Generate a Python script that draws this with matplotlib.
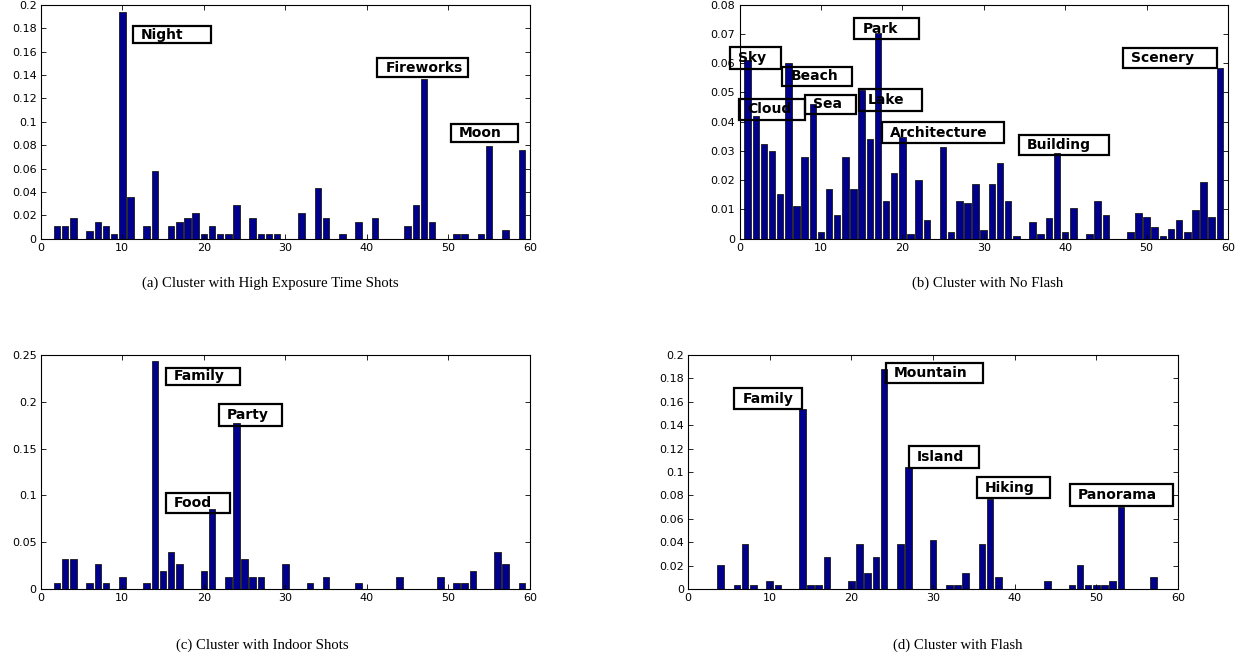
import numpy as np
import matplotlib
matplotlib.use("Agg")
import matplotlib.pyplot as plt
from matplotlib.patches import Rectangle
from matplotlib.ticker import FuncFormatter

# bar index 1..59 for all four clusters
idx = np.arange(1, 60)

high_exposure = [0, 0.011, 0.011, 0.018, 0, 0.007, 0.0145, 0.011, 0.0036, 0.194,
                 0.036, 0, 0.011, 0.058, 0, 0.011, 0.0145, 0.018, 0.0217, 0.0036,
                 0.011, 0.0036, 0.0036, 0.029, 0, 0.018, 0.0036, 0.0036, 0.0036, 0,
                 0, 0.0217, 0, 0.0435, 0.018, 0, 0.0036, 0, 0.0145, 0,
                 0.018, 0, 0, 0, 0.011, 0.029, 0.137, 0.0145, 0, 0,
                 0.0036, 0.0036, 0, 0.0036, 0.079, 0, 0.0072, 0, 0.076]

no_flash = [0.061, 0.042, 0.0324, 0.030, 0.0154, 0.060, 0.0112, 0.0281, 0.0459, 0.0024,
            0.017, 0.0081, 0.0281, 0.017, 0.0508, 0.034, 0.0704, 0.0129, 0.0226, 0.0346,
            0.0016, 0.0202, 0.0064, 0, 0.0315, 0.0024, 0.0129, 0.0122, 0.0186, 0.0031,
            0.0186, 0.0258, 0.0129, 0.0008, 0, 0.0056, 0.0016, 0.0072, 0.0292, 0.0024,
            0.0104, 0, 0.0016, 0.0129, 0.0081, 0, 0, 0.0024, 0.0089, 0.0073,
            0.004, 0.0008, 0.0032, 0.0064, 0.0024, 0.0097, 0.0194, 0.0073, 0.0583]

indoor = [0, 0.0064, 0.0324, 0.0324, 0, 0.0064, 0.0263, 0.0064, 0, 0.0128,
          0, 0, 0.0064, 0.2436, 0.0192, 0.0395, 0.0263, 0, 0, 0.0192,
          0.0855, 0, 0.0128, 0.1776, 0.0324, 0.0128, 0.0128, 0, 0, 0.0263,
          0, 0, 0.0064, 0, 0.0128, 0, 0, 0, 0.0064, 0,
          0, 0, 0, 0.0128, 0, 0, 0, 0, 0.0128, 0,
          0.0064, 0.0064, 0.0192, 0, 0, 0.0395, 0.0263, 0, 0.0064]

flash = [0, 0, 0, 0.0205, 0, 0.0034, 0.0385, 0.0034, 0, 0.0068,
         0.0034, 0, 0, 0.1536, 0.0034, 0.0034, 0.0276, 0, 0, 0.0068,
         0.0385, 0.0137, 0.0276, 0.188, 0, 0.0385, 0.1043, 0, 0, 0.0419,
         0, 0.0034, 0.0034, 0.0137, 0, 0.0385, 0.0768, 0.0103, 0, 0,
         0, 0, 0, 0.0068, 0, 0, 0.0034, 0.0205, 0.0034, 0.0034,
         0.0034, 0.0068, 0.0698, 0, 0, 0, 0.0103, 0, 0]

captions = ["(a) Cluster with High Exposure Time Shots", "(b) Cluster with No Flash",
            "(c) Cluster with Indoor Shots", "(d) Cluster with Flash"]

# tag labels: text, box x0, x1, y0, y1 (data coords)
tags_a = [("Night", 11.28, 20.88, 0.1674, 0.1817),
          ("Fireworks", 41.28, 52.43, 0.1383, 0.1546),
          ("Moon", 50.31, 58.49, 0.0831, 0.0983)]
tags_b = [("Sky", -1.17, 5.06, 0.0579, 0.0654),
          ("Beach", 5.25, 13.84, 0.0522, 0.0588),
          ("Cloud", -0.1, 8.04, 0.0406, 0.0478),
          ("Sea", 8.07, 14.29, 0.0426, 0.0492),
          ("Park", 14.09, 21.99, 0.0682, 0.0754),
          ("Lake", 14.70, 22.36, 0.0438, 0.0511),
          ("Architecture", 17.45, 32.49, 0.0326, 0.0400),
          ("Building", 34.29, 45.40, 0.0286, 0.0355),
          ("Scenery", 47.09, 58.63, 0.0583, 0.0651)]
tags_c = [("Family", 15.33, 24.44, 0.2179, 0.2364),
          ("Party", 21.86, 29.55, 0.1745, 0.1973),
          ("Food", 15.36, 23.21, 0.0809, 0.1022)]
tags_d = [("Family", 5.67, 13.92, 0.1536, 0.1715),
          ("Mountain", 24.24, 36.14, 0.1758, 0.1934),
          ("Island", 27.05, 35.65, 0.1032, 0.1222),
          ("Hiking", 35.34, 44.31, 0.0775, 0.0955),
          ("Panorama", 46.76, 59.40, 0.0712, 0.0895)]

W, H = 1243, 660
fig = plt.figure(figsize=(W / 100, H / 100), dpi=100)

def px_axes(left, right, top, bottom):
    return fig.add_axes([left / W, 1 - bottom / H, (right - left) / W, (bottom - top) / H])

panels = [
    (px_axes(40.7, 530, 5, 238.7), high_exposure, 0.2, 0.02, tags_a),
    (px_axes(739.5, 1228, 4.7, 238.7), no_flash, 0.08, 0.01, tags_b),
    (px_axes(40.7, 530, 355, 589), indoor, 0.25, 0.05, tags_c),
    (px_axes(688, 1178, 355, 589), flash, 0.2, 0.02, tags_d),
]

fmt = FuncFormatter(lambda v, p: "%g" % round(v, 4))

for ax, vals, ymax, ystep, tags in panels:
    ax.bar(idx, vals, width=0.8, color="#00008C", edgecolor="#1a1a1a", linewidth=0.6)
    ax.set_xlim(0, 60)
    ax.set_ylim(0, ymax)
    ax.set_xticks(np.arange(0, 61, 10))
    ax.set_yticks(np.arange(0, ymax + ystep / 2, ystep))
    ax.yaxis.set_major_formatter(fmt)
    ax.tick_params(direction="in", top=True, right=True, length=3.5, width=0.6,
                   labelsize=8, pad=3)
    for lab in ax.get_xticklabels() + ax.get_yticklabels():
        lab.set_family("DejaVu Sans")
    for s in ax.spines.values():
        s.set_linewidth(0.8)
    for text, x0, x1, y0, y1 in tags:
        ax.add_patch(Rectangle((x0, y0), x1 - x0, y1 - y0, fill=False,
                               edgecolor="black", linewidth=1.6, clip_on=False, zorder=4))
        ax.text(x0 + 1.0, (y0 + y1) / 2, text, ha="left", va="center",
                fontsize=10, fontweight="bold", family="DejaVu Sans", zorder=5)

cap_pos = [(270, 283), (988, 283), (262, 645), (958, 645)]
for cap, (cx, cy) in zip(captions, cap_pos):
    fig.text(cx / W, 1 - cy / H, cap, ha="center", va="center",
             fontsize=10.6, family="Liberation Serif")

fig.savefig("out.png", dpi=100)
